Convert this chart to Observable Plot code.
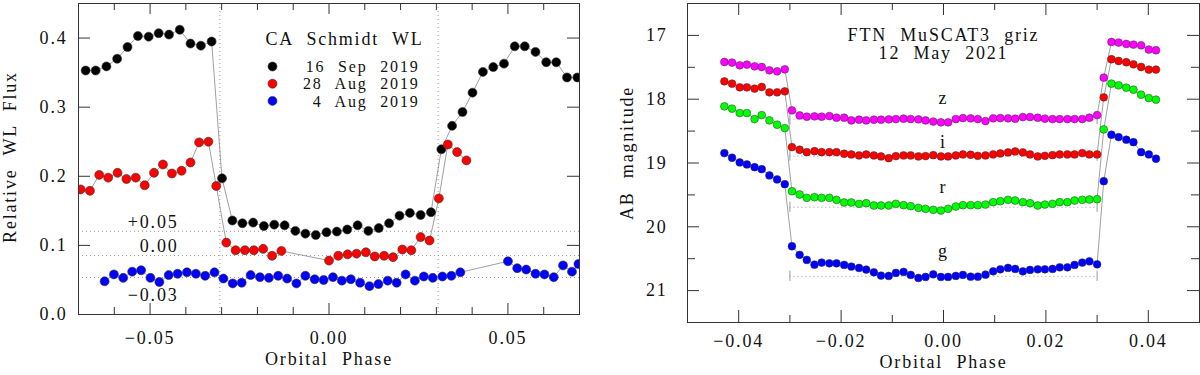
<!DOCTYPE html>
<html><head><meta charset="utf-8">
<script src="https://cdn.jsdelivr.net/npm/d3@7"></script>
<script src="https://cdn.jsdelivr.net/npm/@observablehq/plot@0.6"></script>
<style>
body{margin:0;background:#fff;}
#wrap{display:flex;width:1200px;height:375px;}
#wrap svg{display:block;}
</style></head><body><div id="wrap"></div>
<script>
// ---------- Left panel: CA Schmidt WL ----------
const sep16Phase = [-0.0680,-0.0652,-0.0622,-0.0592,-0.0563,-0.0534,-0.0504,-0.0476,-0.0447,-0.0417,-0.0387,-0.0358,-0.0328,-0.0299,-0.0270,-0.0242,-0.0212,-0.0182,-0.0153,-0.0124,-0.0094,-0.0066,-0.0037,-0.0007,0.0022,0.0051,0.0080,0.0110,0.0139,0.0168,0.0197,0.0226,0.0256,0.0285,0.0314,0.0344,0.0373,0.0401,0.0430,0.0459,0.0489,0.0519,0.0547,0.0577,0.0607,0.0635,0.0665,0.0694];
const sep16Flux = [0.353,0.353,0.359,0.370,0.387,0.403,0.402,0.407,0.405,0.412,0.392,0.389,0.395,0.197,0.136,0.132,0.133,0.128,0.130,0.129,0.121,0.117,0.115,0.119,0.120,0.123,0.129,0.121,0.125,0.132,0.143,0.147,0.144,0.148,0.239,0.273,0.293,0.321,0.351,0.358,0.363,0.388,0.388,0.380,0.365,0.365,0.343,0.343];

const aug28Phase = [-0.0694,-0.0668,-0.0642,-0.0617,-0.0591,-0.0566,-0.0540,-0.0515,-0.0489,-0.0464,-0.0439,-0.0412,-0.0387,-0.0363,-0.0337,-0.0315,-0.0287,-0.0261,-0.0235,-0.0210,-0.0184,-0.0159,-0.0133,0.0000,0.0026,0.0052,0.0077,0.0103,0.0128,0.0154,0.0179,0.0205,0.0230,0.0256,0.0281,0.0307,0.0332,0.0358,0.0384];
const aug28Flux = [0.181,0.179,0.202,0.198,0.205,0.196,0.198,0.187,0.205,0.217,0.204,0.208,0.220,0.249,0.250,0.186,0.104,0.093,0.093,0.093,0.095,0.085,0.092,0.078,0.085,0.087,0.088,0.090,0.084,0.085,0.083,0.094,0.093,0.112,0.107,0.168,0.246,0.235,0.223];

const aug4Phase = [-0.0627,-0.0601,-0.0575,-0.0550,-0.0525,-0.0499,-0.0474,-0.0448,-0.0423,-0.0397,-0.0372,-0.0346,-0.0320,-0.0295,-0.0269,-0.0244,-0.0219,-0.0193,-0.0168,-0.0142,-0.0117,-0.0091,-0.0066,-0.0040,-0.0015,0.0011,0.0036,0.0061,0.0087,0.0113,0.0138,0.0164,0.0189,0.0214,0.0240,0.0265,0.0290,0.0317,0.0342,0.0367,0.0500,0.0526,0.0551,0.0577,0.0602,0.0628,0.0654,0.0679,0.0697];
const aug4Flux = [0.048,0.058,0.053,0.062,0.064,0.053,0.047,0.057,0.059,0.061,0.059,0.056,0.061,0.052,0.045,0.046,0.057,0.054,0.053,0.056,0.052,0.045,0.056,0.051,0.050,0.054,0.049,0.051,0.046,0.041,0.044,0.049,0.046,0.058,0.049,0.055,0.053,0.055,0.056,0.061,0.077,0.067,0.065,0.059,0.058,0.054,0.071,0.062,0.073];

const leftNames = ["16 Sep 2019", "28 Aug 2019", "4 Aug 2019"];
const leftColors = ["#000000", "#ff0000", "#0000ff"];
const leftTitle = "CA Schmidt WL";
const eclipseEdges = [-0.0305, 0.0305];
const offsetLevels = [0.1204, 0.0853, 0.0535];
const offsetLabels = ["+0.05", "0.00", "\u22120.03"];
const offsetLabelY = [0.1334, 0.0987, 0.0279];
const leftXMajor = [-0.05, 0, 0.05];
const leftXMinor = [-0.06, -0.04, -0.03, -0.02, -0.01, 0.01, 0.02, 0.03, 0.04, 0.06];
const leftYMajor = [0, 0.1, 0.2, 0.3, 0.4];

// ---------- Right panel: FTN MuSCAT3 griz ----------
const rPhase = [-0.0428,-0.0413,-0.0398,-0.0384,-0.0369,-0.0355,-0.0340,-0.0325,-0.0310,
 -0.0296,-0.0281,-0.0267,-0.0252,-0.0238,-0.0223,-0.0209,-0.0194,-0.0180,-0.0165,-0.0151,-0.0136,-0.0122,-0.0107,-0.0093,-0.0078,-0.0064,-0.0049,-0.0035,-0.0020,
 -0.0005,0.0009,0.0024,0.0038,0.0053,0.0067,0.0082,0.0097,0.0111,0.0126,0.0140,0.0155,0.0169,0.0184,0.0198,0.0213,0.0227,0.0242,0.0256,0.0271,0.0285,0.0300,
 0.0313,0.0328,0.0342,0.0357,0.0371,0.0386,0.0401,0.0415];
const zMag = [17.417,17.426,17.469,17.458,17.484,17.495,17.547,17.563,17.531,
 18.175,18.254,18.274,18.269,18.274,18.264,18.290,18.290,18.332,18.321,18.332,18.321,18.321,18.316,18.311,18.305,18.311,18.316,18.332,18.350,
 18.363,18.363,18.311,18.296,18.300,18.311,18.343,18.300,18.296,18.300,18.305,18.280,18.280,18.290,18.305,18.311,18.311,18.311,18.311,18.311,18.290,18.249,
 17.662,17.103,17.112,17.134,17.144,17.155,17.222,17.233];
const iMag = [17.720,17.756,17.814,17.814,17.834,17.809,17.892,17.892,17.877,
 18.751,18.792,18.830,18.814,18.830,18.830,18.830,18.855,18.866,18.882,18.866,18.882,18.897,18.924,18.892,18.882,18.882,18.897,18.892,18.877,
 18.897,18.897,18.882,18.866,18.871,18.887,18.882,18.866,18.850,18.834,18.819,18.834,18.866,18.897,18.887,18.877,18.866,18.866,18.866,18.845,18.866,18.866,
 17.971,17.374,17.401,17.421,17.453,17.495,17.536,17.536];
const rMag = [18.112,18.148,18.217,18.217,18.312,18.249,18.332,18.400,18.453,
 19.442,19.494,19.546,19.536,19.546,19.546,19.577,19.619,19.619,19.640,19.630,19.666,19.666,19.666,19.640,19.661,19.677,19.703,19.718,19.734,
 19.745,19.718,19.682,19.661,19.661,19.661,19.651,19.614,19.599,19.577,19.588,19.614,19.630,19.666,19.651,19.640,19.614,19.614,19.588,19.577,19.572,19.567,
 18.473,17.756,17.783,17.819,17.850,17.929,17.982,18.007];
const gMag = [18.845,18.918,18.991,19.023,19.065,19.097,19.195,19.258,19.332,
 20.305,20.440,20.519,20.593,20.561,20.572,20.572,20.597,20.624,20.644,20.671,20.713,20.765,20.770,20.723,20.707,20.754,20.801,20.786,20.745,
 20.786,20.786,20.770,20.754,20.781,20.781,20.750,20.698,20.666,20.644,20.660,20.698,20.676,20.666,20.666,20.660,20.635,20.635,20.597,20.561,20.541,20.588,
 19.285,18.557,18.594,18.635,18.673,18.830,18.866,18.933];
const bandNames = ["z", "i", "r", "g"];
const bandColors = ["#ff00ff", "#ff0000", "#00ff00", "#0000ff"];
const bandLevels = [18.321, 18.892, 19.693, 20.776];
const bandLabelMag = [18.08, 18.765, 19.478, 20.47];
const bandSpan = [-0.0300, 0.0300];
const rightTitle = ["FTN MuSCAT3 griz", "12 May 2021"];
const rightXMajor = [-0.04, -0.02, 0, 0.02, 0.04];
const rightXMinor = [-0.03, -0.01, 0.01, 0.03];
const rightYMajor = [17, 18, 19, 20, 21];
const rightYMinor = [17.5, 18.5, 19.5, 20.5];

// ---------- helpers ----------
const FONT = "Liberation Serif";
const baseStyle = {fontFamily: FONT, fontSize: "18px", background: "white", color: "#111",
  overflow: "visible", letterSpacing: "1.8px", wordSpacing: "7px"};
const tickStyle = {stroke: "#333", strokeWidth: 1};

function frameTicks(xs, ys, W, H, lx, ly) {
  const m = [];
  m.push(Plot.tickX(xs, {x: d => d, insetTop: H - lx, ...tickStyle}));
  m.push(Plot.tickX(xs, {x: d => d, insetBottom: H - lx, ...tickStyle}));
  m.push(Plot.tickY(ys, {y: d => d, insetRight: W - ly, ...tickStyle}));
  m.push(Plot.tickY(ys, {y: d => d, insetLeft: W - ly, ...tickStyle}));
  return m;
}

// ---------- left plot ----------
{
  const width = 600, height = 375, mL = 78, mR = 21, mT = 3, mB = 61;
  const W = width - mL - mR, H = height - mT - mB;
  const phases = [sep16Phase, aug28Phase, aug4Phase];
  const fluxes = [sep16Flux, aug28Flux, aug4Flux];
  const rows = [];
  leftNames.forEach((name, k) => phases[k].forEach((p, i) => rows.push({series: name, color: leftColors[k], phase: p, flux: fluxes[k][i]})));
  const offs = offsetLevels.map((v, i) => ({v, label: offsetLabels[i], ly: offsetLabelY[i]}));
  const legendMarks = [];
  leftNames.forEach((name, i) => {
    legendMarks.push(Plot.dot([name], {frameAnchor: "top-left", dx: 194, dy: 63 + 17.2 * i, r: 4.5, fill: leftColors[i], stroke: "#333", strokeWidth: 0.6}));
    legendMarks.push(Plot.text([name], {text: d => d, frameAnchor: "top-left", dx: 341, dy: 63.5 + 17.2 * i, textAnchor: "end", lineAnchor: "middle", fill: "#111", fontSize: 16, letterSpacing: "2.4px"}));
  });
  const chart = Plot.plot({
    width, height, marginLeft: mL, marginRight: mR, marginTop: mT, marginBottom: mB,
    style: baseStyle,
    x: {domain: [-0.07, 0.07]},
    y: {domain: [0, 0.45]},
    color: {type: "identity"},
    marks: [
      Plot.ruleX(eclipseEdges, {x: d => d, stroke: "#999", strokeDasharray: "1,3"}),
      Plot.ruleY(offs, {y: "v", stroke: "#999", strokeDasharray: "1,3"}),
      Plot.text(offs, {y: "ly", text: "label", frameAnchor: "left", dx: 100, textAnchor: "end", lineAnchor: "middle", fill: "#111"}),
      Plot.line(rows, {x: "phase", y: "flux", z: "series", stroke: "#888", strokeWidth: 0.8, clip: true}),
      Plot.dot(rows, {x: "phase", y: "flux", fill: "color", r: 4.5, stroke: "#333", strokeWidth: 0.6, clip: true}),
      Plot.text([leftTitle], {text: d => d, frameAnchor: "top-left", dx: 187, dy: 36, textAnchor: "start", lineAnchor: "middle", fill: "#111"}),
      ...legendMarks,
      ...frameTicks(leftXMajor, leftYMajor, W, H, 11, 12),
      ...frameTicks(leftXMinor, [], W, H, 7, 7),
      Plot.frame({stroke: "#333", strokeWidth: 1}),
      Plot.axisX({ticks: leftXMajor, tickSize: 0, tickPadding: 17, tickFormat: d3.format(".2f"), label: null, fontSize: 18}),
      Plot.axisY({ticks: leftYMajor, tickSize: 0, tickPadding: 11, tickFormat: d3.format(".1f"), label: null, fontSize: 18}),
      Plot.text(["Orbital Phase"], {text: d => d, frameAnchor: "bottom", dy: 45, textAnchor: "middle", lineAnchor: "middle", fill: "#111"}),
      Plot.text(["Relative WL Flux"], {text: d => d, frameAnchor: "left", dx: -68, dy: -2, rotate: -90, textAnchor: "middle", lineAnchor: "middle", fill: "#111"})
    ]
  });
  document.getElementById("wrap").append(chart);
}

// ---------- right plot ----------
{
  const width = 600, height = 375, mL = 87, mR = 1, mT = 3, mB = 53;
  const W = width - mL - mR, H = height - mT - mB;
  const mags = [zMag, iMag, rMag, gMag];
  const rows = [];
  bandNames.forEach((b, k) => rPhase.forEach((p, i) => rows.push({band: b, color: bandColors[k], phase: p, mag: mags[k][i]})));
  const refs = bandLevels.map((v, i) => ({band: bandNames[i], v, x1: bandSpan[0], x2: bandSpan[1]}));
  const caps = [];
  refs.forEach(r => bandSpan.forEach(x => caps.push({x, y1: r.v - 0.08, y2: r.v + 0.08})));
  const labels = bandNames.map((b, i) => ({b, y: bandLabelMag[i], x: 0}));
  const chart = Plot.plot({
    width, height, marginLeft: mL, marginRight: mR, marginTop: mT, marginBottom: mB,
    style: baseStyle,
    x: {domain: [-0.05, 0.05]},
    y: {domain: [16.5, 21.5], reverse: true},
    color: {type: "identity"},
    marks: [
      Plot.ruleY(refs, {y: "v", x1: "x1", x2: "x2", stroke: "#999", strokeDasharray: "1,3"}),
      Plot.ruleX(caps, {x: "x", y1: "y1", y2: "y2", stroke: "#999", strokeWidth: 1}),
      Plot.line(rows, {x: "phase", y: "mag", z: "band", stroke: "#888", strokeWidth: 0.8, clip: true}),
      Plot.dot(rows, {x: "phase", y: "mag", fill: "color", r: 3.9, stroke: "#333", strokeWidth: 0.5, clip: true}),
      Plot.text(labels, {x: "x", y: "y", text: "b", lineAnchor: "bottom", fill: "#111"}),
      Plot.text([rightTitle[0]], {text: d => d, frameAnchor: "top", dy: 32, textAnchor: "middle", lineAnchor: "middle", fill: "#111"}),
      Plot.text([rightTitle[1]], {text: d => d, frameAnchor: "top", dy: 50, textAnchor: "middle", lineAnchor: "middle", fill: "#111"}),
      ...frameTicks(rightXMajor, rightYMajor, W, H, 12, 12),
      ...frameTicks(rightXMinor, rightYMinor, W, H, 7, 8),
      Plot.frame({stroke: "#333", strokeWidth: 1}),
      Plot.axisX({ticks: rightXMajor, tickSize: 0, tickPadding: 12, tickFormat: d3.format(".2f"), label: null, fontSize: 18}),
      Plot.axisY({ticks: rightYMajor, tickSize: 0, tickPadding: 20, tickFormat: d3.format("d"), label: null, fontSize: 18}),
      Plot.text(["Orbital Phase"], {text: d => d, frameAnchor: "bottom", dy: 40, textAnchor: "middle", lineAnchor: "middle", fill: "#111"}),
      Plot.text(["AB magnitude"], {text: d => d, frameAnchor: "left", dx: -60, dy: -10, rotate: -90, textAnchor: "middle", lineAnchor: "middle", fill: "#111"})
    ]
  });
  document.getElementById("wrap").append(chart);
}
</script></body></html>
